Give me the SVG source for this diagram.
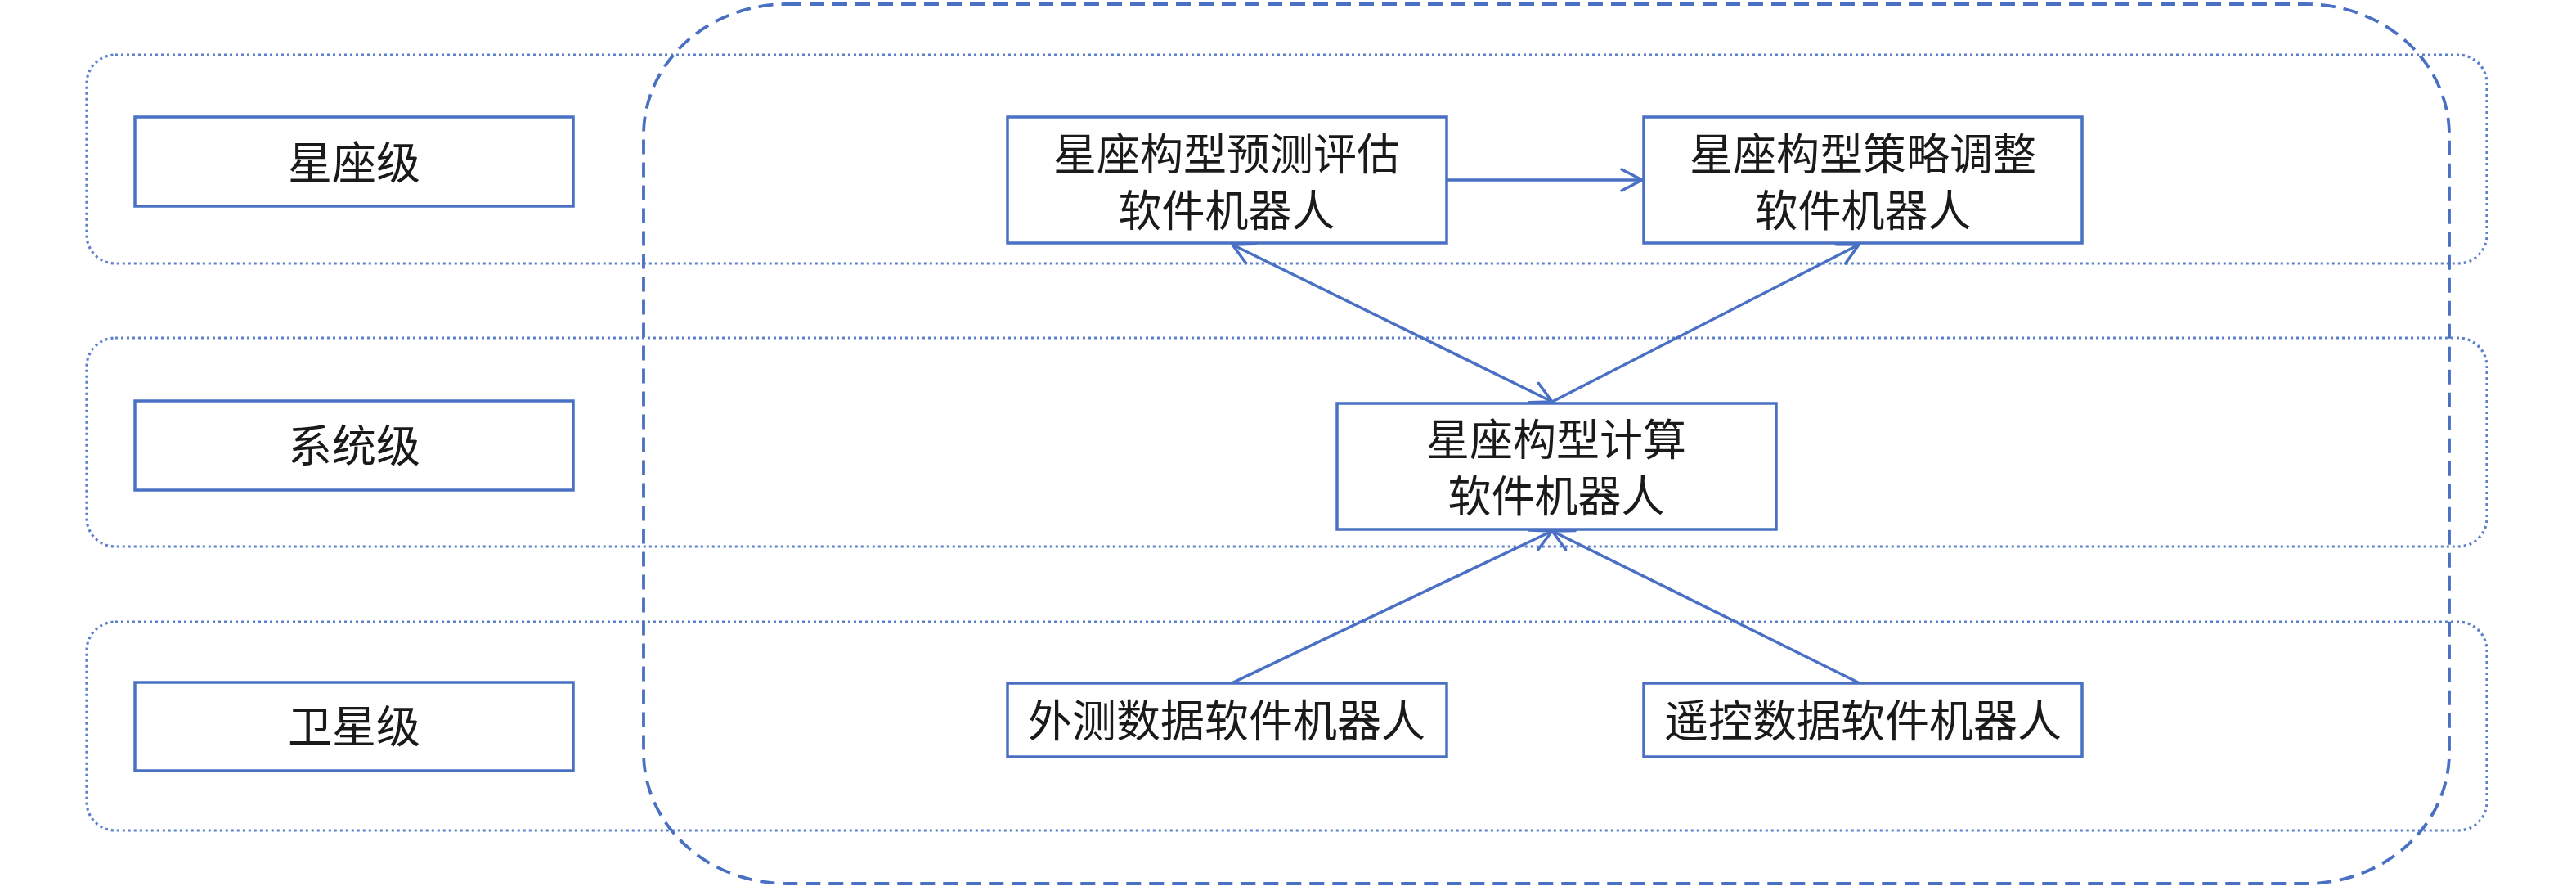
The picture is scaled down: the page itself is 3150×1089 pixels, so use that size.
<svg xmlns="http://www.w3.org/2000/svg" width="3150" height="1089" viewBox="0 0 3150 1089">
  <defs>
    <marker id="arr" markerUnits="userSpaceOnUse" viewBox="-30 -16 34 32" refX="0" refY="0" markerWidth="34" markerHeight="32" orient="auto-start-reverse">
      <path d="M-25,-13 L0,0 L-25,13" fill="none" stroke="#4A70C4" stroke-width="3.5" stroke-linecap="round" stroke-linejoin="round"/>
    </marker>
  </defs>
  <style>
    .band { fill: none; stroke: #5C80CC; stroke-width: 3.2; stroke-dasharray: 3 4; }
    .outer { fill: none; stroke: #4A70C4; stroke-width: 3.8; stroke-dasharray: 18 10; }
    .box { fill: #ffffff; stroke: #4A70C4; stroke-width: 3.5; }
    .conn { fill: none; stroke: #4A70C4; stroke-width: 3.5; }
    .t { font-family: "Noto Sans CJK SC", "Noto Sans CJK TC", sans-serif; font-size: 54px; fill: #1a1a1a; text-anchor: middle; }
    .t2 { font-size: 53px; }
  </style>
  <rect width="3150" height="1089" fill="#ffffff"/>

  <g id="bands">
    <rect id="band-constellation" class="band" x="106" y="67" width="2935" height="255" rx="35" ry="35"/>
    <rect id="band-system" class="band" x="106" y="413" width="2935" height="255" rx="35" ry="35"/>
    <rect id="band-satellite" class="band" x="106" y="760" width="2935" height="255" rx="35" ry="35"/>
  </g>

  <rect id="outer-group" class="outer" x="787" y="5" width="2208" height="1075" rx="175" ry="160"/>

  <g id="connectors">
    <line class="conn" x1="1769" y1="220" x2="2008" y2="220" marker-end="url(#arr)"/>
    <line class="conn" x1="1507" y1="299" x2="1898" y2="491" marker-start="url(#arr)" marker-end="url(#arr)"/>
    <line class="conn" x1="1898" y1="491" x2="2273" y2="299" marker-end="url(#arr)"/>
    <line class="conn" x1="1506" y1="835" x2="1898" y2="649" marker-end="url(#arr)"/>
    <line class="conn" x1="2274" y1="835" x2="1898" y2="649" marker-end="url(#arr)"/>
  </g>

  <g id="label-constellation">
    <rect class="box" x="165" y="143" width="536" height="109"/>
    <text class="t" x="433" y="219">星座级</text>
  </g>
  <g id="label-system">
    <rect class="box" x="165" y="490" width="536" height="109"/>
    <text class="t" x="433" y="565">系统级</text>
  </g>
  <g id="label-satellite">
    <rect class="box" x="165" y="834" width="536" height="108"/>
    <text class="t" x="433" y="908">卫星级</text>
  </g>

  <g id="node-predict">
    <rect class="box" x="1232" y="143" width="537" height="154"/>
    <text class="t t2" x="1500" y="208">星座构型预测评估</text>
    <text class="t t2" x="1500" y="277">软件机器人</text>
  </g>
  <g id="node-strategy">
    <rect class="box" x="2010" y="143" width="536" height="154"/>
    <text class="t t2" x="2278" y="208">星座构型策略调整</text>
    <text class="t t2" x="2278" y="277">软件机器人</text>
  </g>
  <g id="node-compute">
    <rect class="box" x="1635" y="493" width="537" height="154"/>
    <text class="t t2" x="1903" y="557">星座构型计算</text>
    <text class="t t2" x="1903" y="626">软件机器人</text>
  </g>
  <g id="node-external">
    <rect class="box" x="1232" y="835" width="537" height="90"/>
    <text class="t" x="1500" y="901">外测数据软件机器人</text>
  </g>
  <g id="node-telecontrol">
    <rect class="box" x="2010" y="835" width="536" height="90"/>
    <text class="t" x="2278" y="901">遥控数据软件机器人</text>
  </g>
</svg>
